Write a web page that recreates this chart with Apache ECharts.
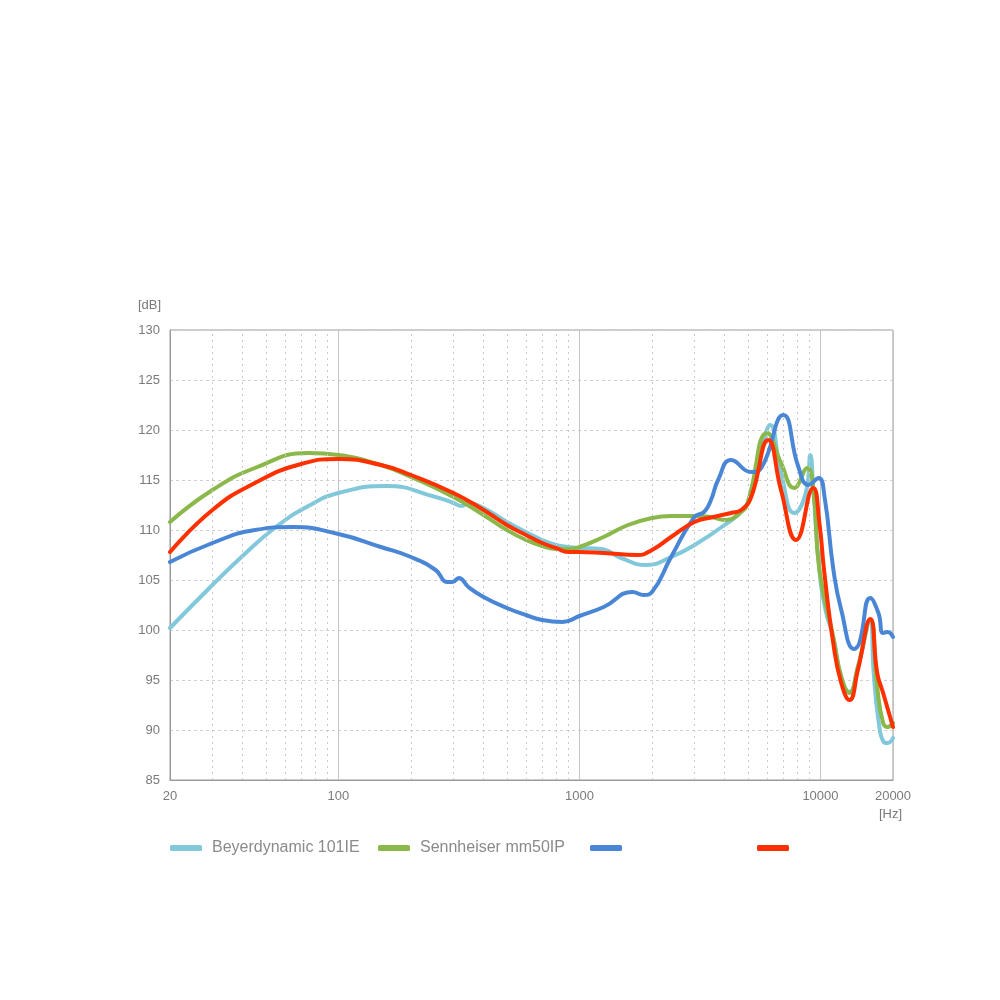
<!DOCTYPE html>
<html><head><meta charset="utf-8">
<script src="https://cdn.jsdelivr.net/npm/echarts@6/dist/echarts.min.js"></script>
<style>html,body{margin:0;padding:0;background:#fff}#c{width:1000px;height:1000px}</style>
</head><body><div id="c"></div>
<script>
// ---- data ----
const beyerFreq = [20,30,40,55,75,100,158,253,300,324,346,400,500,600,700,800,900,1000,1227,1488,1895,2400,3000,4000,4840,5160,5700,6190,6860,7780,8750,9080,9350,9900,10500,11300,12200,13200,14300,16100,16600,17400,18300,19000,20000];
const beyerDb   = [100.2,104.5,107.4,110.3,112.4,113.7,114.4,113.3,112.7,112.4,112.7,112.2,110.8,109.8,109.0,108.5,108.3,108.2,108.1,107.2,106.5,107.3,108.5,110.5,112.2,114.0,118.0,120.5,115.7,111.7,114.0,117.5,113.9,106.0,102.0,99.3,95.3,93.8,96.3,101.0,96.0,91.0,88.8,88.7,89.2];

const sennFreq = [20,30,45,75,100,150,200,300,400,500,600,700,800,900,1000,1260,1590,2000,2400,3000,3513,4000,4690,5000,6020,6860,7780,8830,9350,9900,11300,12200,13200,14300,16100,17200,18200,19000,20000];
const sennDb   = [110.8,114.0,116.2,117.7,117.5,116.5,115.3,113.3,111.5,110.0,109.0,108.4,108.1,108.1,108.3,109.3,110.5,111.2,111.4,111.4,111.3,111.0,111.8,112.8,119.7,116.7,114.2,116.2,114.0,106.0,99.3,95.3,93.7,96.3,101.0,94.3,90.7,90.3,90.7];

const blueFreq = [20,30,45,65,100,150,200,253,283,297,316,346,400,500,600,700,850,1000,1260,1660,1850,2000,2400,3000,3290,3513,3760,4260,5160,5680,7010,8100,8920,9820,10400,11320,12200,13800,14500,16100,17400,18200,19000,20000];
const blueDb   = [106.8,108.7,110.0,110.3,109.6,108.3,107.3,106.0,104.8,104.8,105.2,104.3,103.3,102.2,101.5,101.0,100.8,101.4,102.3,103.8,103.5,103.8,107.3,111.3,111.8,113.0,115.0,117.0,115.8,116.2,121.5,116.3,114.5,115.2,113.3,106.0,102.0,98.1,98.7,103.2,101.7,99.7,99.8,99.3];

const redFreq = [20,30,45,70,100,150,200,300,400,500,600,700,800,900,1000,1260,1740,2000,2400,3000,3600,4260,4690,5160,6070,6860,7930,9330,9900,10350,11300,12200,13200,14300,16100,17200,18200,20000];
const redDb   = [107.8,112.0,114.7,116.6,117.1,116.5,115.5,113.7,112.0,110.5,109.5,108.7,108.2,107.8,107.8,107.7,107.5,108.0,109.3,110.8,111.3,111.7,112.0,113.3,119.0,114.0,109.0,114.2,110.7,106.0,98.7,94.7,93.0,96.0,101.1,95.7,93.7,90.3];

const seriesNames = ['Beyerdynamic 101IE','Sennheiser mm50IP',' ','  '];
const minorGridFreq = [30,40,50,60,70,80,90,200,300,400,500,600,700,800,900,2000,3000,4000,5000,6000,7000,8000,9000];
const yTicks = {min:85, max:130, interval:5};
const xRange = {min:20, max:20000};

const colors = ['#80c8da','#8bb84a','#4a86d6','#ff3000'];
const pair = (f, d) => f.map((x, i) => [x, d[i]]);
const allData = [pair(beyerFreq, beyerDb), pair(sennFreq, sennDb), pair(blueFreq, blueDb), pair(redFreq, redDb)];

const chart = echarts.init(document.getElementById('c'), null, {renderer:'canvas'});
const labelColor = '#7a7a7a';
const FONT = 'Liberation Sans, Arial, sans-serif';
const series = allData.map((d, i) => ({
  name: seriesNames[i], type:'line', data:d, smooth:0.5, showSymbol:false, symbol:'none',
  lineStyle:{width:4, color:colors[i], cap:'round', join:'round'}, itemStyle:{color:colors[i]},
  z: 3 + i, silent:true
}));
series.push({
  type:'line', data:[], silent:true, z:1,
  markLine:{silent:true, symbol:['none','none'], label:{show:false},
    lineStyle:{type:[2,4], color:'#c8c8c8', width:1},
    data: minorGridFreq.map(v => ({xAxis:v}))}
});
const legendLeft = [170, 378, 590, 757];
const legends = seriesNames.map((n, i) => ({
  data:[n], left:legendLeft[i], top:840, padding:0, itemWidth:32, itemHeight:6, itemGap:0,
  icon:'roundRect', selectedMode:false,
  textStyle:{color:'#8a8a8a', fontSize:16, fontFamily:FONT, padding:[0,0,0,5]}
}));

chart.setOption({
  animation:false,
  backgroundColor:'#fff',
  grid:{left:170, top:330, width:723, height:450, show:true, borderColor:'#9a9a9a', borderWidth:1, containLabel:false},
  legend: legends,
  xAxis:{type:'log', logBase:10, min:xRange.min, max:xRange.max,
    name:'[Hz]', nameLocation:'end', nameGap:-14,
    nameTextStyle:{color:labelColor, fontSize:13, verticalAlign:'top', padding:[28,0,0,0], fontFamily:FONT},
    axisLine:{show:true, lineStyle:{color:'#9a9a9a'}}, axisTick:{show:false},
    axisLabel:{color:labelColor, fontSize:13, margin:10, showMinLabel:true, showMaxLabel:true, fontFamily:FONT,
      formatter: v => String(Math.round(v))},
    splitLine:{show:true, lineStyle:{color:'#c4c4c4', width:1}},
    minorTick:{show:false}, minorSplitLine:{show:false}},
  yAxis:{type:'value', min:yTicks.min, max:yTicks.max, interval:yTicks.interval,
    name:'[dB]', nameLocation:'end', nameGap:18,
    nameTextStyle:{color:labelColor, fontSize:13, align:'right', padding:[0,9,0,0], fontFamily:FONT},
    axisLine:{show:true, lineStyle:{color:'#9a9a9a'}}, axisTick:{show:false},
    axisLabel:{color:labelColor, fontSize:13, margin:10, fontFamily:FONT},
    splitLine:{show:true, lineStyle:{color:'#d0d0d0', type:[3,3], width:1}}},
  series: series
});
</script>
</body></html>
